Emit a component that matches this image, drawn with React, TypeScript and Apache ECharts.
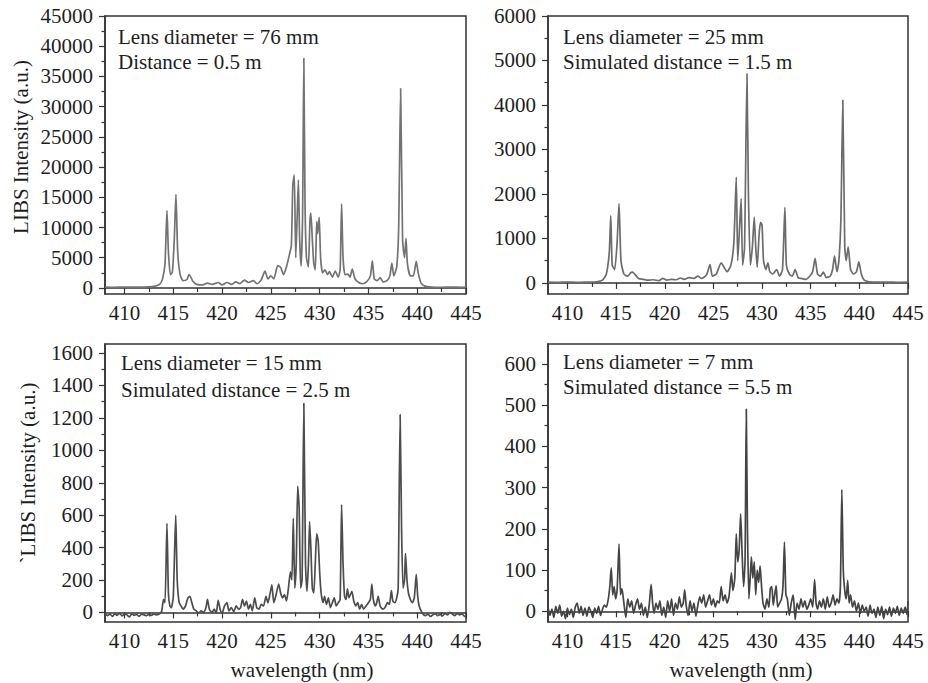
import React, { useEffect, useRef } from 'react';
import * as echarts from 'echarts';

// ---------- axis ticks ----------
const xTickValues = [410, 415, 420, 425, 430, 435, 440, 445];
const xMinorTickValues = [412.5, 417.5, 422.5, 427.5, 432.5, 437.5, 442.5];

const yTicks76 = [0, 5000, 10000, 15000, 20000, 25000, 30000, 35000, 40000, 45000];
const yMinor76 = [2500, 7500, 12500, 17500, 22500, 27500, 32500, 37500, 42500];
const yTicks25 = [0, 1000, 2000, 3000, 4000, 5000, 6000];
const yMinor25 = [500, 1500, 2500, 3500, 4500, 5500];
const yTicks15 = [0, 200, 400, 600, 800, 1000, 1200, 1400, 1600];
const yMinor15 = [100, 300, 500, 700, 900, 1100, 1300, 1500];
const yTicks7 = [0, 100, 200, 300, 400, 500, 600];
const yMinor7 = [50, 150, 250, 350, 450, 550];

// ---------- annotations ----------
const labels76 = ['Lens diameter = 76 mm', 'Distance = 0.5 m'];
const labels25 = ['Lens diameter = 25 mm', 'Simulated distance = 1.5 m'];
const labels15 = ['Lens diameter = 15 mm', 'Simulated distance = 2.5 m'];
const labels7 = ['Lens diameter = 7 mm', 'Simulated distance = 5.5 m'];

// ---------- spectra: [wavelength nm, intensity a.u.] ----------
const spectrum76mm = [
  [408, 150], [409, 120], [410, 150], [411, 130], [412, 150], [413, 250], [413.6, 600], [413.9, 1500],
  [414.15, 4000], [414.35, 12800], [414.5, 6000], [414.7, 2200], [414.9, 2600], [415.1, 8000],
  [415.27, 15500], [415.45, 6000], [415.7, 2200], [416.0, 1200], [416.4, 1400], [416.6, 2200],
  [416.8, 1800], [417.0, 1100], [417.4, 600], [418.0, 500], [418.5, 800], [419.0, 600], [419.6, 900],
  [420.0, 500], [420.5, 900], [421.0, 600], [421.4, 1000], [421.8, 700], [422.3, 1300], [422.7, 900],
  [423.2, 1200], [423.6, 700], [424.0, 1300], [424.4, 2800], [424.7, 1500], [425.0, 2000], [425.3, 1500],
  [425.7, 3700], [426.0, 3400], [426.3, 2200], [426.6, 3500], [426.9, 5500], [427.1, 7000],
  [427.25, 17000], [427.4, 18700], [427.55, 5000], [427.7, 12000], [427.82, 17900], [427.95, 8000],
  [428.1, 3600], [428.25, 12000], [428.38, 38000], [428.5, 14000], [428.65, 5000], [428.85, 3500],
  [429.0, 11000], [429.1, 12400], [429.25, 8000], [429.4, 4000], [429.55, 3000], [429.7, 11000],
  [429.8, 9000], [429.95, 11700], [430.1, 5000], [430.3, 2500], [430.55, 3000], [430.8, 2200],
  [431.0, 2700], [431.3, 1800], [431.6, 2800], [431.9, 1800], [432.1, 3000], [432.25, 13900],
  [432.4, 5000], [432.6, 2200], [432.9, 2300], [433.1, 1800], [433.35, 3100], [433.6, 1600],
  [434.0, 900], [434.4, 700], [434.8, 1000], [435.2, 2000], [435.4, 4500], [435.6, 1500], [435.9, 1200],
  [436.2, 1700], [436.5, 1000], [436.9, 1200], [437.2, 2000], [437.4, 4100], [437.6, 2000], [437.9, 3500],
  [438.1, 10000], [438.3, 33000], [438.5, 8000], [438.7, 5000], [438.85, 8200], [439.0, 4000],
  [439.3, 2000], [439.6, 2000], [439.9, 4400], [440.1, 2500], [440.4, 800], [440.8, 300], [441.5, 150],
  [442.5, 120], [443.5, 150], [444.5, 120], [445, 150],
];

const spectrum25mm = [
  [408, 15], [409, 10], [410, 20], [411, 12], [412, 18], [413, 25], [413.6, 60], [414.0, 200], [414.3, 700],
  [414.45, 1510], [414.6, 400], [414.85, 300], [415.1, 900], [415.3, 1780], [415.5, 500], [415.8, 200],
  [416.2, 150], [416.5, 230], [416.7, 240], [416.9, 200], [417.3, 100], [417.8, 80], [418.3, 60],
  [418.8, 70], [419.4, 50], [419.8, 100], [420.2, 60], [420.7, 80], [421.2, 70], [421.6, 110], [422.0, 80],
  [422.5, 120], [423.0, 100], [423.4, 150], [423.8, 100], [424.3, 180], [424.65, 410], [424.9, 150],
  [425.3, 200], [425.8, 450], [426.1, 350], [426.4, 250], [426.8, 400], [427.1, 900], [427.35, 2380],
  [427.5, 500], [427.7, 1300], [427.85, 1890], [428.0, 400], [428.2, 800], [428.45, 4700], [428.6, 2000],
  [428.8, 400], [429.0, 800], [429.2, 1480], [429.35, 800], [429.5, 350], [429.7, 1100], [429.85, 1360],
  [430.0, 1300], [430.15, 500], [430.4, 300], [430.6, 450], [430.8, 250], [431.1, 200], [431.5, 300],
  [431.8, 150], [432.1, 300], [432.35, 1700], [432.5, 400], [432.8, 200], [433.1, 150], [433.4, 300],
  [433.7, 120], [434.0, 100], [434.5, 80], [434.9, 150], [435.2, 250], [435.45, 550], [435.7, 200],
  [436.0, 150], [436.3, 240], [436.6, 120], [437.0, 150], [437.25, 300], [437.45, 600], [437.7, 250],
  [437.9, 500], [438.1, 1400], [438.3, 4110], [438.5, 800], [438.65, 500], [438.85, 810], [439.1, 300],
  [439.4, 200], [439.7, 250], [439.95, 470], [440.2, 200], [440.5, 60], [441, 25], [442, 15], [443, 20],
  [444, 12], [445, 18],
];

const spectrum15mm = [
  [408.0, -5], [408.25, -20], [408.5, -10], [408.75, -25], [409.0, -8], [409.25, -18], [409.5, -5],
  [409.75, -22], [410.0, -10], [410.25, -15], [410.5, -28], [410.75, -8], [411.0, -18], [411.25, -12],
  [411.5, -25], [411.75, -10], [412.0, -15], [412.25, -20], [412.5, -12], [412.75, -18], [413.0, -10],
  [413.25, -15], [413.5, -12], [413.8, 5], [414.0, 80], [414.15, 60], [414.35, 550], [414.5, 120],
  [414.65, 40], [414.8, 30], [415.0, 100], [415.25, 600], [415.4, 200], [415.6, 60], [415.8, 40],
  [416.0, 20], [416.25, 40], [416.5, 90], [416.7, 100], [416.9, 60], [417.1, 20], [417.35, 10],
  [417.6, -5], [417.85, 10], [418.1, 0], [418.35, 30], [418.5, 80], [418.7, 20], [418.95, 0], [419.2, 20],
  [419.4, -5], [419.6, 75], [419.8, 20], [420.0, -5], [420.25, 40], [420.5, 60], [420.7, 10], [420.95, 30],
  [421.2, 5], [421.45, 40], [421.7, 20], [421.9, 30], [422.1, 80], [422.3, 40], [422.5, 70], [422.7, 20],
  [422.9, 50], [423.1, 10], [423.35, 90], [423.55, 30], [423.8, 20], [424.0, 50], [424.25, 40],
  [424.5, 100], [424.7, 60], [424.9, 110], [425.1, 170], [425.3, 60], [425.5, 100], [425.8, 175],
  [426.0, 120], [426.2, 90], [426.4, 110], [426.6, 70], [426.8, 150], [427.0, 250], [427.15, 200],
  [427.3, 580], [427.45, 150], [427.6, 300], [427.75, 780], [427.9, 640], [428.05, 150], [428.2, 200],
  [428.38, 1290], [428.55, 300], [428.7, 130], [428.85, 300], [428.97, 560], [429.1, 400], [429.25, 150],
  [429.4, 120], [429.55, 300], [429.7, 485], [429.85, 440], [430.0, 250], [430.15, 120], [430.35, 60],
  [430.5, 100], [430.7, 50], [430.9, 90], [431.1, 30], [431.3, 60], [431.5, 90], [431.7, 40], [431.9, 60],
  [432.1, 80], [432.25, 665], [432.4, 300], [432.55, 100], [432.7, 80], [432.85, 145], [433.0, 90],
  [433.15, 110], [433.3, 130], [433.5, 70], [433.7, 40], [433.9, 60], [434.1, 20], [434.3, 50],
  [434.5, 20], [434.75, 40], [435.0, 60], [435.2, 80], [435.35, 175], [435.5, 80], [435.7, 40],
  [435.85, 60], [436.0, 100], [436.2, 40], [436.45, 20], [436.7, 30], [436.95, 60], [437.15, 50],
  [437.35, 135], [437.5, 70], [437.7, 60], [437.9, 90], [438.05, 150], [438.25, 1220], [438.4, 500],
  [438.55, 150], [438.7, 200], [438.8, 365], [438.95, 200], [439.1, 120], [439.3, 80], [439.5, 60],
  [439.7, 90], [439.9, 235], [440.05, 100], [440.2, 40], [440.4, 10], [440.6, -10], [440.85, -20],
  [441.1, -10], [441.35, -25], [441.6, -15], [441.85, -8], [442.1, -20], [442.35, -12], [442.6, -22],
  [442.85, -5], [443.1, -15], [443.35, 0], [443.6, -10], [443.85, -20], [444.1, -5], [444.35, -15],
  [444.6, -8], [444.85, -25], [445.0, -20],
];

const spectrum7mm = [
  [408.0, 10], [408.2, -10], [408.4, 5], [408.6, -15], [408.8, 12], [409.0, -5], [409.2, 15], [409.4, -12],
  [409.6, 0], [409.8, -18], [410.0, 8], [410.2, -8], [410.4, 5], [410.6, -15], [410.8, 10], [411.0, 20],
  [411.2, -5], [411.4, 12], [411.6, -10], [411.8, 8], [412.0, -12], [412.2, 10], [412.4, 0], [412.6, -15],
  [412.8, 8], [413.0, -5], [413.2, 12], [413.4, -10], [413.6, 5], [413.8, 15], [414.0, 10], [414.2, 30],
  [414.35, 60], [414.5, 105], [414.65, 40], [414.8, 60], [414.95, 30], [415.1, 50], [415.3, 163],
  [415.45, 40], [415.6, 55], [415.8, 20], [416.0, -15], [416.2, 30], [416.4, 10], [416.6, 25],
  [416.8, -5], [417.0, 15], [417.2, 30], [417.4, 5], [417.6, 20], [417.8, -10], [418.0, 10], [418.2, -15],
  [418.4, 15], [418.6, 65], [418.75, 20], [418.9, -5], [419.1, 20], [419.3, 5], [419.5, 25], [419.7, -10],
  [419.9, 10], [420.1, -15], [420.3, 25], [420.5, 0], [420.7, 30], [420.9, -10], [421.1, 20], [421.3, 5],
  [421.5, 35], [421.7, 10], [421.9, 20], [422.05, 52], [422.2, 15], [422.4, -10], [422.6, 25], [422.8, 0],
  [423.0, 20], [423.2, -12], [423.4, 15], [423.6, 35], [423.8, 20], [424.0, 40], [424.2, 10], [424.4, 25],
  [424.6, 40], [424.8, 15], [425.0, 30], [425.2, 10], [425.4, 25], [425.6, 20], [425.8, 60], [426.0, 25],
  [426.2, 40], [426.4, 20], [426.6, 35], [426.85, 93], [427.0, 50], [427.2, 80], [427.35, 188],
  [427.5, 120], [427.65, 150], [427.8, 236], [427.95, 140], [428.1, 60], [428.25, 120], [428.38, 490],
  [428.5, 200], [428.65, 30], [428.8, 90], [428.9, 132], [429.05, 80], [429.2, 120], [429.35, 40],
  [429.5, 100], [429.65, 70], [429.8, 110], [429.95, 60], [430.1, 20], [430.3, 5], [430.5, 30], [430.7, 10],
  [430.85, 55], [431.0, 60], [431.15, 15], [431.3, 40], [431.45, 62], [431.6, 10], [431.8, 20], [432.0, 30],
  [432.15, 60], [432.3, 168], [432.45, 40], [432.6, 30], [432.8, -10], [433.0, 20], [433.2, 40],
  [433.4, -20], [433.6, 20], [433.8, 5], [434.0, 30], [434.2, 10], [434.4, 25], [434.6, 5], [434.8, 15],
  [435.0, 30], [435.2, 10], [435.4, 77], [435.55, 20], [435.7, 5], [435.9, 25], [436.1, 10], [436.3, 30],
  [436.5, 5], [436.7, 35], [436.9, 10], [437.1, 20], [437.3, 40], [437.5, 15], [437.7, 30], [437.9, 20],
  [438.05, 60], [438.2, 295], [438.35, 100], [438.5, 50], [438.65, 30], [438.8, 75], [438.95, 20],
  [439.1, 40], [439.3, 10], [439.5, 25], [439.7, 0], [439.9, 20], [440.1, -5], [440.3, 15], [440.5, 0],
  [440.7, 10], [440.9, -12], [441.1, 15], [441.3, -5], [441.5, 5], [441.7, -15], [441.9, 10], [442.1, -10],
  [442.3, 12], [442.5, -18], [442.7, 5], [442.9, -8], [443.1, 10], [443.3, -12], [443.5, 8], [443.7, -5],
  [443.9, 12], [444.1, -10], [444.3, 8], [444.5, -5], [444.7, 10], [444.9, -8], [445.0, 25],
];

const FONT = '"Liberation Serif", "Times New Roman", serif';
const TEXT_COLOR = '#1e1e1e';
const FRAME = '#333';

interface PanelDef {
  left: number; top: number; width: number; height: number;
  yMin: number; yMax: number; yTicks: number[]; yMinor: number[];
  data: number[][]; color: string; labels: string[];
  labelX: number; labelY: number[];
}

const panels: PanelDef[] = [
  { left: 105, top: 16, width: 361, height: 278, yMin: -1000, yMax: 45000, yTicks: yTicks76, yMinor: yMinor76,
    data: spectrum76mm, color: '#737373', labels: labels76, labelX: 118, labelY: [37, 62] },
  { left: 548, top: 16, width: 360, height: 278, yMin: -250, yMax: 6000, yTicks: yTicks25, yMinor: yMinor25,
    data: spectrum25mm, color: '#6c6c6c', labels: labels25, labelX: 563, labelY: [37, 62] },
  { left: 105, top: 344, width: 361, height: 278, yMin: -59, yMax: 1656, yTicks: yTicks15, yMinor: yMinor15,
    data: spectrum15mm, color: '#4d4d4d', labels: labels15, labelX: 121, labelY: [363, 390] },
  { left: 548, top: 344, width: 360, height: 278, yMin: -26, yMax: 648, yTicks: yTicks7, yMinor: yMinor7,
    data: spectrum7mm, color: '#444', labels: labels7, labelX: 563, labelY: [362, 387] },
];

const plain = (v: number) => String(v);

export default function App() {
  const ref = useRef<HTMLDivElement>(null);
  useEffect(() => {
    document.body.style.margin = '0';
    if (!ref.current) return;
    const chart = echarts.init(ref.current, undefined, { renderer: 'svg' });

    const grid: any[] = [];
    const xAxis: any[] = [];
    const yAxis: any[] = [];
    const series: any[] = [];
    const graphic: any[] = [];

    panels.forEach((p, i) => {
      grid.push({ left: p.left, top: p.top, width: p.width, height: p.height, show: true,
        borderColor: FRAME, borderWidth: 1.5, backgroundColor: 'transparent' });
      const axisLine = { show: true, lineStyle: { color: FRAME, width: 1.5 } };
      xAxis.push({
        type: 'value', gridIndex: i, min: 408, max: 445, position: 'bottom',
        axisLine, splitLine: { show: false },
        axisTick: { show: true, inside: false, length: 6, customValues: xTickValues, lineStyle: { color: FRAME, width: 1.2 } },
        axisLabel: { show: true, customValues: xTickValues, formatter: plain, margin: 8, fontSize: 21, fontFamily: FONT, color: TEXT_COLOR },
      });
      xAxis.push({
        type: 'value', gridIndex: i, min: 408, max: 445, position: 'bottom',
        axisLine: { show: false }, splitLine: { show: false }, axisLabel: { show: false },
        axisTick: { show: true, inside: false, length: 4, customValues: xMinorTickValues, lineStyle: { color: FRAME, width: 1.2 } },
      });
      yAxis.push({
        type: 'value', gridIndex: i, min: p.yMin, max: p.yMax, position: 'left',
        axisLine, splitLine: { show: false },
        axisTick: { show: true, inside: false, length: 6, customValues: p.yTicks, lineStyle: { color: FRAME, width: 1.2 } },
        axisLabel: { show: true, customValues: p.yTicks, formatter: plain, margin: 12, fontSize: 21, fontFamily: FONT, color: TEXT_COLOR },
      });
      yAxis.push({
        type: 'value', gridIndex: i, min: p.yMin, max: p.yMax, position: 'left',
        axisLine: { show: false }, splitLine: { show: false }, axisLabel: { show: false },
        axisTick: { show: true, inside: false, length: 3.5, customValues: p.yMinor, lineStyle: { color: FRAME, width: 1.2 } },
      });
      series.push({
        type: 'line', xAxisIndex: 2 * i, yAxisIndex: 2 * i, data: p.data,
        showSymbol: false, symbol: 'none', smooth: 0.2, clip: true,
        lineStyle: { color: p.color, width: 1.7 },
      });
      p.labels.forEach((t, k) => {
        graphic.push({ type: 'text', x: p.labelX, y: p.labelY[k], silent: true,
          style: { text: t, fontSize: 21, fontFamily: FONT, fill: TEXT_COLOR, textAlign: 'left', textVerticalAlign: 'middle' } });
      });
    });

    graphic.push({ type: 'text', x: 21, y: 147, rotation: Math.PI / 2, silent: true,
      style: { text: 'LIBS Intensity (a.u.)', fontSize: 21, fontFamily: FONT, fill: TEXT_COLOR, textAlign: 'center', textVerticalAlign: 'middle' } });
    graphic.push({ type: 'text', x: 28, y: 473, rotation: Math.PI / 2, silent: true,
      style: { text: '`LIBS Intensity (a.u.)', fontSize: 21, fontFamily: FONT, fill: TEXT_COLOR, textAlign: 'center', textVerticalAlign: 'middle' } });
    graphic.push({ type: 'text', x: 302, y: 670, silent: true,
      style: { text: 'wavelength (nm)', fontSize: 21, fontFamily: FONT, fill: TEXT_COLOR, textAlign: 'center', textVerticalAlign: 'middle' } });
    graphic.push({ type: 'text', x: 741, y: 670, silent: true,
      style: { text: 'wavelength (nm)', fontSize: 21, fontFamily: FONT, fill: TEXT_COLOR, textAlign: 'center', textVerticalAlign: 'middle' } });

    chart.setOption({
      animation: false,
      backgroundColor: '#ffffff',
      grid, xAxis, yAxis, series, graphic,
    });
    return () => chart.dispose();
  }, []);
  return <div ref={ref} style={{ width: 928, height: 683 }} />;
}
